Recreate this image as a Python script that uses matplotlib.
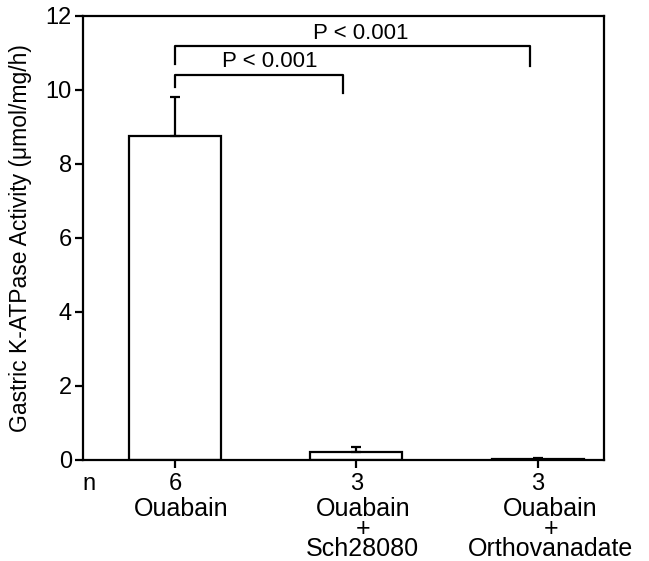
import matplotlib.pyplot as plt
from matplotlib import transforms

plt.rcParams['font.family'] = ['Liberation Sans', 'DejaVu Sans']

# data
groups = ['Ouabain', 'Ouabain\n+\nSch28080', 'Ouabain\n+\nOrthovanadate']
group_x = [0.035, 1.035, 2.07]
n_values = ['6', '3', '3']
activity = [8.76, 0.21, 0.02]
errors = [1.05, 0.13, 0.04]
p_labels = ['P < 0.001', 'P < 0.001']
p_label_x = [0.52, 1.025]
# brackets: (x left, x right, bar height, left leg end, right leg end)
brackets = [(0, 0.926, 10.41, 10.08, 9.92), (0, 1.956, 11.19, 10.7, 10.65)]

fig = plt.figure(figsize=(6.49, 5.61), dpi=100)
ax = fig.add_axes([83 / 649, 101 / 561, 521 / 649, 444 / 561])

x = list(range(len(activity)))
ax.bar(x, activity, width=0.507, color='white', edgecolor='black', linewidth=1.6, zorder=2)
ax.errorbar(x, activity, yerr=[[0] * len(errors), errors], fmt='none', ecolor='black',
            elinewidth=1.6, capsize=3.5, capthick=1.6, zorder=3)

# significance brackets
for (a, b, h, la, lb), lab, tx in zip(brackets, p_labels, p_label_x):
    ax.plot([a, a, b, b], [la, h, h, lb], color='black', linewidth=1.6, clip_on=False)
    ax.text(tx, h + 0.2, lab, ha='center', va='baseline', fontsize=16)

ax.set_xlim(-0.507, 2.364)
ax.set_ylim(0, 12)
ax.set_yticks(range(0, 13, 2))
ax.set_xticks(x)
ax.set_xticklabels(n_values)
ax.tick_params(axis='both', direction='out', length=6, width=1.6, labelsize=17)
ax.tick_params(axis='x', pad=3.5)
ax.tick_params(axis='y', pad=2)
for s in ax.spines.values():
    s.set_linewidth(1.6)

ax.set_ylabel('Gastric K-ATPase Activity (\u03bcmol/mg/h)', fontsize=16.5, labelpad=10)

trans = transforms.blended_transform_factory(ax.transData, ax.transAxes)
for gx, g in zip(group_x, groups):
    ax.text(gx, -0.083, g, transform=trans, ha='center', va='top', fontsize=18,
            linespacing=0.8)
ax.text(-0.475, -0.0676, 'n', transform=trans, ha='center', va='baseline', fontsize=17)

fig.savefig('out.png', dpi=100)
